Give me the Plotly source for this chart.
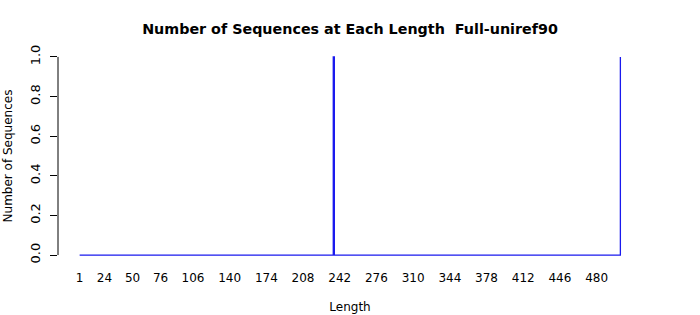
import numpy as np
import plotly.graph_objects as go

# Data
min_length = 1
max_length = 502
spike_lengths = [236, 502]
spike_counts = [1, 1]
x_tick_vals = [1, 24, 50, 76, 106, 140, 174, 208, 242, 276, 310, 344, 378, 412, 446, 480]
y_tick_vals = [0.0, 0.2, 0.4, 0.6, 0.8, 1.0]
title_text = "Number of Sequences at Each Length  Full-uniref90"

lengths = np.arange(min_length, max_length + 1)
counts = np.zeros_like(lengths, dtype=float)
for L, c in zip(spike_lengths, spike_counts):
    counts[L - min_length] = c

font = "DejaVu Sans, Liberation Sans, sans-serif"
span = max_length - min_length
xr = [min_length - 0.04 * span, max_length + 0.04 * span]

fig = go.Figure()
fig.add_trace(go.Scatter(x=lengths, y=counts, mode="lines",
                         line=dict(color="#1a1aee", width=1.3, shape="hv"),
                         hoverinfo="skip", showlegend=False))

fig.add_shape(type="line", xref="paper", yref="y", x0=0, x1=0,
              y0=y_tick_vals[0], y1=y_tick_vals[-1],
              line=dict(color="black", width=1))

fig.update_layout(
    width=700, height=315,
    margin=dict(l=58, r=58, t=49, b=52),
    paper_bgcolor="white", plot_bgcolor="white",
    font=dict(family=font, size=12, color="black"),
    title=dict(text="<b>" + title_text + "</b>", x=0.5, xanchor="center",
               y=1 - 29 / 315, yanchor="middle",
               font=dict(family=font, size=14.3, color="black")),
    xaxis=dict(range=xr, showgrid=False, zeroline=False, showline=False,
               automargin=False,
               tickmode="array", tickvals=x_tick_vals,
               ticktext=[str(v) for v in x_tick_vals],
               ticks="", ticklabelstandoff=6,
               title=dict(text="Length", standoff=18, font=dict(size=12))),
    yaxis=dict(range=[-0.04, 1.04], showgrid=False, zeroline=False,
               showline=False, automargin=False,
               tickmode="array", tickvals=y_tick_vals,
               ticktext=["%.1f" % v for v in y_tick_vals],
               ticks="outside", ticklen=7, tickcolor="black", tickwidth=1,
               tickangle=-90, ticklabelstandoff=5,
               tickfont=dict(size=13),
               title=dict(text="Number of Sequences", standoff=12,
                          font=dict(size=12))),
)

fig.write_html("out.html")
